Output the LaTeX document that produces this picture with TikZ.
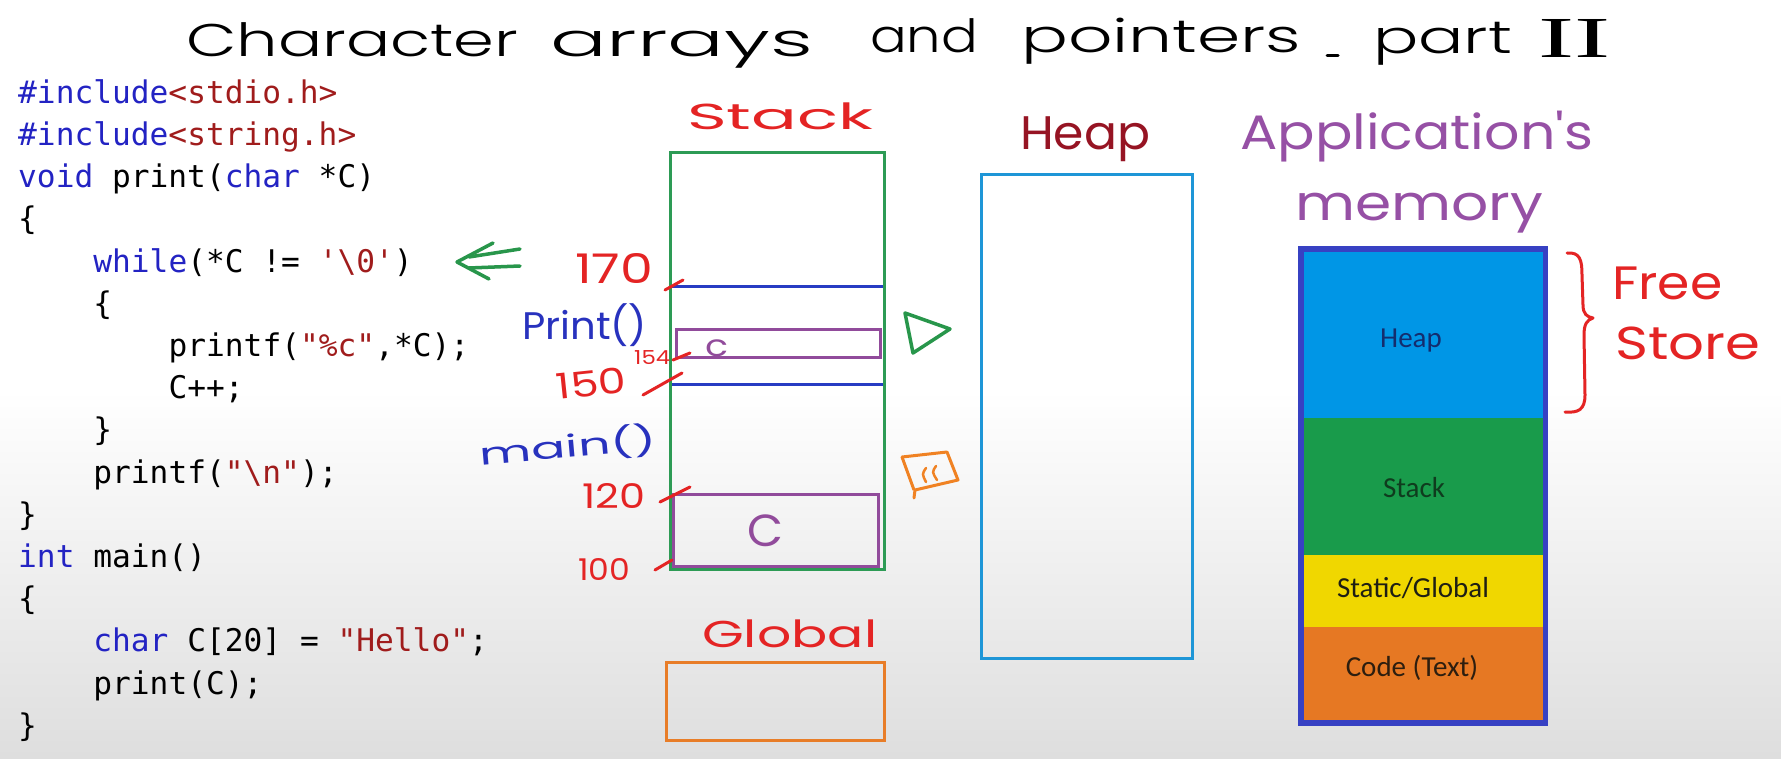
\documentclass[tikz,border=0pt]{standalone}
\usepackage{fontspec}
\usepackage{graphicx}
\setmonofont{DejaVu Sans Mono}
\newfontfamily\handfont{Poppins}
\newfontfamily\handlight{Poppins Light}
\newfontfamily\calfont{Carlito}
\newfontfamily\numfont{Liberation Serif}
\definecolor{kwblue}{RGB}{35,35,195}
\definecolor{strred}{RGB}{160,28,28}
\definecolor{hwred}{RGB}{228,36,36}
\definecolor{heapred}{RGB}{150,20,35}
\definecolor{hwblue}{RGB}{40,50,190}
\definecolor{hwpurple}{RGB}{150,80,165}
\definecolor{hwgreen}{RGB}{40,150,75}
\definecolor{hworange}{RGB}{240,130,35}
\definecolor{stackgreen}{RGB}{45,155,85}
\definecolor{lineblue}{RGB}{40,60,195}
\definecolor{boxpurple}{RGB}{145,75,155}
\definecolor{heapcyan}{RGB}{30,150,215}
\definecolor{globorange}{RGB}{232,125,40}
\definecolor{memborder}{RGB}{55,65,195}
\definecolor{memheap}{RGB}{0,150,230}
\definecolor{memstack}{RGB}{25,155,75}
\definecolor{memstatic}{RGB}{240,215,0}
\definecolor{memcode}{RGB}{230,120,35}
\newcommand\kw[1]{\textcolor{kwblue}{#1}}
\newcommand\str[1]{\textcolor{strred}{#1}}
\newcommand\hwbox[3]{\resizebox*{#1pt}{#2pt}{#3}}
\newlength\hwW
\newlength\hwH
% width, x-height, text: scaled so that the word has the given width and x-height
\newcommand\hwx[3]{\settowidth\hwW{#3}\settoheight\hwH{x}%
  \pgfmathsetmacro\hwxs{#1/\hwW}\pgfmathsetmacro\hwys{#2/\hwH}%
  \scalebox{\hwxs}[\hwys]{#3}}
\tikzset{
  codeline/.style={anchor=base west, inner sep=0pt, font=\fontsize{31.2}{42}\selectfont\ttfamily},
  hw/.style={anchor=north west, inner sep=0pt, font=\handfont},
  hwt/.style={anchor=base west, inner sep=0pt, font=\handlight},
  tick/.style={draw=hwred, line width=3pt, line cap=round},
  memtext/.style={inner sep=0pt, font=\fontsize{29}{32}\selectfont\calfont},
  frame/.style={line width=3pt}
}
\begin{document}
\begin{tikzpicture}[x=1pt,y=-1pt]
\useasboundingbox (0,0) rectangle (1781,759);
\fill[white] (0,0) rectangle (1781,759);
\shade[top color=white, bottom color=black!13] (0,390) rectangle (1781,759);

% title
\node[hwt] (t1) at (186,57) {\hwx{332}{25}{Character}};
\node[hwt] (t2) at (550,57) {\hwx{263}{25}{arrays}};
\node[hwt] (t3) at (870,53) {\hwx{108}{25}{and}};
\node[hwt] (t4) at (1021,53) {\hwx{280}{25}{pointers}};
\coordinate (dashA) at (1327,56);
\coordinate (dashB) at (1338,56);
\draw[line width=3pt, line cap=round] (dashA) -- (dashB);
\node[hwt] (t5) at (1373,54) {\hwx{139}{25}{part}};
\node[hw, font=\numfont] (t6) at (1538,19) {\hwbox{72}{38}{II}};

% code
\node[codeline] (l1) at (18,103.3) {\kw{\#include}\str{<stdio.h>}};
\node[codeline] (l2) at (18,145.5) {\kw{\#include}\str{<string.h>}};
\node[codeline] (l3) at (18,187.7) {\kw{void} print(\kw{char} *C)};
\node[codeline] (l4) at (18,229.9) {\{};
\node[codeline] (l5) at (93.2,272.1) {\kw{while}(*C != \str{'\textbackslash0'})};
\node[codeline] (l6) at (93.2,314.3) {\{};
\node[codeline] (l7) at (168.4,356.5) {printf(\str{"\%c"},*C);};
\node[codeline] (l8) at (168.4,398.7) {C++;};
\node[codeline] (l9) at (93.2,440.9) {\}};
\node[codeline] (l10) at (93.2,483.1) {printf(\str{"\textbackslash n"});};
\node[codeline] (l11) at (18,525.3) {\}};
\node[codeline] (l12) at (18,567.5) {\kw{int} main()};
\node[codeline] (l13) at (18,609.7) {\{};
\node[codeline] (l14) at (93.2,651.9) {\kw{char} C[20] = \str{"Hello"};};
\node[codeline] (l15) at (93.2,694.1) {print(C);};
\node[codeline] (l16) at (18,736.3) {\}};

% green double arrow
\coordinate (arrTip) at (457,262);
\draw[hwgreen, line width=3.5pt, line cap=round, line join=round]
  (493,243) -- (arrTip) -- (489,279);
\draw[hwgreen, line width=3.5pt, line cap=round] (469,257) -- (520,249);
\draw[hwgreen, line width=3.5pt, line cap=round] (469,268) -- (520,266);

% stack
\node[hw, text=hwred] (stacklbl) at (687,103) {\hwbox{186}{27}{Stack}};
\draw[stackgreen, frame] (670,153) rectangle (884,569);
\draw[lineblue, frame] (672,287) -- (883,287);
\draw[lineblue, frame] (672,384) -- (883,384);
\draw[boxpurple, frame] (676,330) rectangle (880,358);
\draw[boxpurple, frame] (673,494) rectangle (878,566);
\node[hw, text=boxpurple] (smallc) at (705,340) {\hwbox{23}{17}{c}};
\node[hw, text=boxpurple] (bigC) at (747,515) {\hwbox{36}{32}{C}};

% addresses
\node[hw, text=hwred] (a170) at (575,253) {\hwbox{78}{30}{170}};
\node[hw, text=hwred] (a154) at (634,350) {\hwbox{36}{14}{154}};
\node[hw, text=hwred, rotate=6] (a150) at (555,374) {\hwbox{70}{26}{150}};
\node[hw, text=hwred] (a120) at (582,483) {\hwbox{63}{25}{120}};
\node[hw, text=hwred] (a100) at (578,558) {\hwbox{52}{22}{100}};
\draw[tick] (665,290) -- (683,280);
\draw[tick] (673,360) -- (690,353);
\draw[tick] (643,395) -- (682,373);
\draw[tick] (660,502) -- (690,487);
\draw[tick] (655,570) -- (672,560);
\node[hw, text=hwblue] (printlbl) at (522,303) {\hwbox{125}{43}{Print()}};
\node[hw, text=hwblue, rotate=5] (mainlbl) at (478,437) {\hwbox{177}{34}{main()}};

% green triangle and orange icon
\draw[hwgreen, line width=3.5pt, line join=round] (905,313) -- (913,353) -- (950,329) -- cycle;
\draw[hworange, line width=3pt, line join=round, line cap=round]
  (902,457) -- (947,452) -- (958,480) -- (915,490) -- (914,498);
\draw[hworange, line width=3pt] (902,457) -- (914,490);
\draw[hworange, line width=2.5pt, line cap=round] (926,468) .. controls (922,474) .. (926,482);
\draw[hworange, line width=2.5pt, line cap=round] (936,466) .. controls (932,472) .. (937,480);

% heap
\node[hw, text=heapred] (heaplbl) at (1020,117) {\hwbox{130}{45}{Heap}};
\draw[heapcyan, frame] (981,175) rectangle (1192,658);

% global
\node[hw, text=hwred] (globlbl) at (702,620) {\hwbox{175}{28}{Global}};
\draw[globorange, frame] (666,662) rectangle (884,740);

% application's memory
\node[hw, text=hwpurple] (applbl) at (1240,111) {\hwbox{353}{51}{Application's}};
\node[hw, text=hwpurple] (memlbl) at (1295,193) {\hwbox{248}{40}{memory}};
\fill[memborder] (1298,246) rectangle (1548,726);
\fill[memheap] (1304,252) rectangle (1543,418);
\fill[memstack] (1304,418) rectangle (1543,555);
\fill[memstatic] (1304,555) rectangle (1543,627);
\fill[memcode] (1304,627) rectangle (1543,720);
\node[memtext, text={rgb,255:red,20;green,45;blue,110}] (mheap) at (1411,341) {Heap};
\node[memtext, text={rgb,255:red,15;green,60;blue,30}] (mstack) at (1414,488) {Stack};
\node[memtext, text={rgb,255:red,30;green,30;blue,20}] (mstatic) at (1413,588) {Static/Global};
\node[memtext, text={rgb,255:red,45;green,30;blue,15}] (mcode) at (1412,668) {Code (Text)};

% free store
\draw[hwred, line width=3pt, line cap=round, line join=round]
  (1567,253) .. controls (1580,252) and (1582,260) .. (1582,275) -- (1583,305)
  .. controls (1583,314) and (1587,317) .. (1593,318)
  .. controls (1587,320) and (1584,324) .. (1584,335) -- (1585,395)
  .. controls (1585,410) and (1578,413) .. (1565,412);
\node[hw, text=hwred] (freelbl) at (1612,267) {\hwbox{110}{33}{Free}};
\node[hw, text=hwred] (storelbl) at (1615,327) {\hwbox{145}{33}{Store}};
\end{tikzpicture}
\end{document}
